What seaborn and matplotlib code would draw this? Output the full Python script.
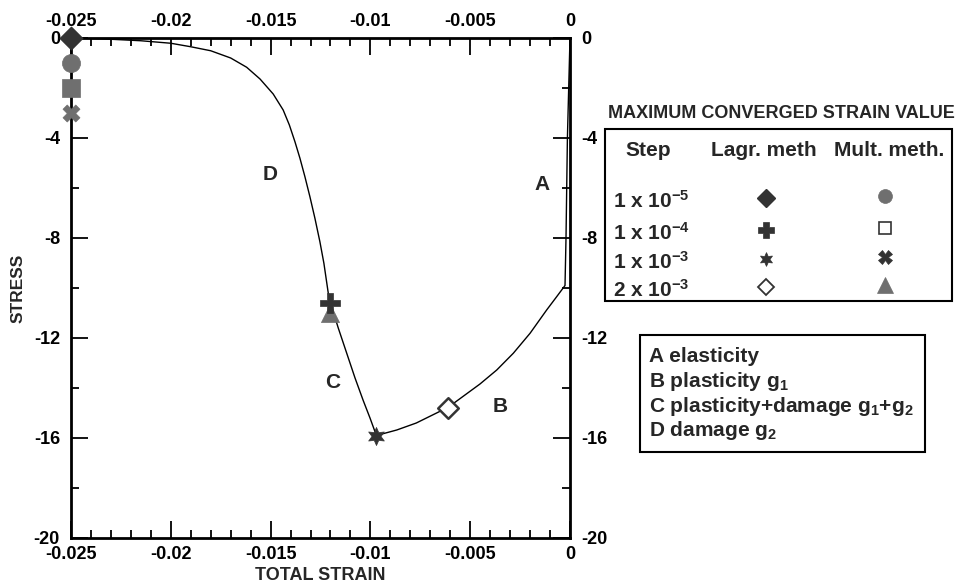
import matplotlib
matplotlib.use("Agg")
import matplotlib.pyplot as plt
import numpy as np
import pandas as pd
import seaborn as sns
from matplotlib.ticker import MultipleLocator, FuncFormatter
from matplotlib.patches import Rectangle

# ---- stress-strain path (A: elastic, B: plastic, C: plastic+damage, D: damage) ----
curve_strain = [0.0, -0.00013, -0.0002, -0.00025, -0.00067, -0.00117, -0.0020,
                -0.00284, -0.00367, -0.00451, -0.0061, -0.0077, -0.00868, -0.0097,
                -0.01002, -0.01036, -0.01077, -0.01119, -0.01161, -0.0120,
                -0.01211, -0.01233, -0.01253, -0.01278, -0.01303, -0.01328,
                -0.01353, -0.01378, -0.01406, -0.01437, -0.01487, -0.01553,
                -0.0162, -0.0170, -0.0180, -0.0190, -0.0200, -0.0215,
                -0.0230, -0.0245, -0.0250]
curve_stress = [0.0, -4.0, -8.0, -9.9, -10.35, -10.88, -11.81,
                -12.61, -13.28, -13.84, -14.77, -15.4, -15.68, -15.9,
                -15.2, -14.5, -13.6, -12.6, -11.6, -10.6,
                -10.21, -9.01, -8.15, -7.21, -6.35, -5.55,
                -4.81, -4.15, -3.48, -2.88, -2.24, -1.64,
                -1.17, -0.8, -0.51, -0.35, -0.21, -0.11,
                -0.05, -0.01, 0.0]

# ---- maximum converged strain for each step size ----
steps = ["1 x 10$^{-5}$", "1 x 10$^{-4}$", "1 x 10$^{-3}$", "2 x 10$^{-3}$"]
lagr_strain = [-0.025, -0.0120, -0.0097, -0.0061]
lagr_stress = [0.0, -10.6, -15.9, -14.8]
mult_strain = [-0.025, -0.025, -0.025, -0.0120]
mult_stress = [-1.0, -2.0, -3.0, -11.0]

region_labels = ["A", "B", "C", "D"]
region_strain = [-0.00142, -0.00351, -0.0119, -0.01503]
region_stress = [-5.88, -14.75, -13.76, -5.48]
region_notes = ["A elasticity", "B plasticity g$_1$",
                "C plasticity+damage g$_1$+g$_2$", "D damage g$_2$"]

sns.set_theme(style="white")
plt.rcParams['font.family'] = ['Liberation Sans', 'DejaVu Sans']
plt.rcParams['font.weight'] = 'bold'
plt.rcParams['axes.unicode_minus'] = False
plt.rcParams['mathtext.fontset'] = 'custom'
plt.rcParams['mathtext.rm'] = 'Liberation Sans:bold'
plt.rcParams['mathtext.it'] = 'Liberation Sans:bold'
plt.rcParams['mathtext.bf'] = 'Liberation Sans:bold'
plt.rcParams['mathtext.default'] = 'rm'

DARK = '#333333'
GRAY = '#6f6f6f'

fig = plt.figure(figsize=(9.6, 5.86), dpi=100)
ax = fig.add_axes([71 / 960, 48 / 586, 499 / 960, 500 / 586])

curve = pd.DataFrame({"strain": curve_strain, "stress": curve_stress})
sns.lineplot(data=curve, x="strain", y="stress", sort=False, estimator=None,
             color="black", lw=1.0, ax=ax)

# marker styles: (marker, size, face, edge, edge width)
lagr_styles = [("D", 130, DARK, DARK, 1.0),
               ("P", 190, DARK, DARK, 0.5),
               ((6, 1, 0), 170, DARK, DARK, 0.5),
               ("D", 110, "white", DARK, 1.8)]
mult_styles_plot = [("o", 170, GRAY, GRAY, 0.5),
                    ("s", 160, GRAY, GRAY, 0.5),
                    ("X", 150, GRAY, GRAY, 0.5),
                    ("^", 170, GRAY, GRAY, 0.5)]

for (x, y, st) in zip(mult_strain, mult_stress, mult_styles_plot):
    m, s, fc, ec, lw = st
    sns.scatterplot(x=[x], y=[y], marker=m, s=s, color=fc, edgecolor=ec,
                    linewidth=lw, ax=ax, clip_on=False, zorder=4)
for (x, y, st) in zip(lagr_strain, lagr_stress, lagr_styles):
    m, s, fc, ec, lw = st
    sns.scatterplot(x=[x], y=[y], marker=m, s=s, color=fc, edgecolor=ec,
                    linewidth=lw, ax=ax, clip_on=False, zorder=5)

for lab, x, y in zip(region_labels, region_strain, region_stress):
    ax.text(x, y, lab, fontsize=15, fontweight='bold', ha='center', va='center')

ax.set_xlim(-0.025, 0)
ax.set_ylim(-20, 0)
ax.xaxis.set_major_locator(MultipleLocator(0.005))
ax.xaxis.set_minor_locator(MultipleLocator(0.001))
ax.yaxis.set_major_locator(MultipleLocator(4))
ax.yaxis.set_minor_locator(MultipleLocator(2))


def fmt(v, pos):
    if abs(v) < 1e-12:
        return "0"
    return f"{v:g}"


ax.xaxis.set_major_formatter(FuncFormatter(fmt))
ax.yaxis.set_major_formatter(FuncFormatter(fmt))
ax.tick_params(which='both', direction='in', top=True, right=True,
               bottom=True, left=True, labeltop=True, labelright=True,
               width=1.3, color='black', labelsize=13, labelcolor='black')
ax.tick_params(which='major', length=12)
ax.tick_params(which='minor', length=6)
ax.tick_params(axis='x', which='major', pad=6)
ax.tick_params(axis='y', which='major', pad=8)
for sp in ax.spines.values():
    sp.set_linewidth(2)
    sp.set_color('black')
for t in ax.get_xticklabels() + ax.get_yticklabels():
    t.set_fontweight('bold')

ax.set_xlabel("TOTAL STRAIN", fontsize=13, fontweight='bold', labelpad=3)
ax.set_ylabel("STRESS", fontsize=12.5, fontweight='bold', labelpad=6)

# ---- legend panels drawn in pixel coordinates ----
ov = fig.add_axes([0, 0, 1, 1])
ov.set_xlim(0, 960)
ov.set_ylim(586, 0)
ov.axis('off')

ov.text(781, 113, "MAXIMUM CONVERGED STRAIN VALUE", fontsize=13,
        fontweight='bold', ha='center', va='center')
ov.add_patch(Rectangle((605, 129), 347, 172, fill=False, lw=1.5,
                       edgecolor='black'))
ov.text(648, 151, "Step", fontsize=15, fontweight='bold', ha='center', va='center')
ov.text(764, 151, "Lagr. meth", fontsize=15, fontweight='bold', ha='center', va='center')
ov.text(889, 151, "Mult. meth.", fontsize=15, fontweight='bold', ha='center', va='center')

row_y = [198, 230, 259, 287]
lagr_leg = [("D", 9, DARK, DARK, 1.0),
            ("P", 12, DARK, DARK, 0.5),
            ((6, 1, 0), 10, DARK, DARK, 0.5),
            ("D", 8.5, "white", DARK, 1.3)]
mult_leg = [("o", 10, GRAY, GRAY, 0.5),
            ("s", 8.5, "white", DARK, 1.2),
            ("X", 10, DARK, DARK, 0.5),
            ("^", 12, GRAY, GRAY, 0.5)]
for i, y in enumerate(row_y):
    ov.text(613, y + 3, steps[i], fontsize=15, fontweight='bold',
            ha='left', va='center')
    m, s, fc, ec, lw = lagr_leg[i]
    ov.plot([766], [y], marker=m, ms=s, mfc=fc, mec=ec, mew=lw, ls='none')
    m, s, fc, ec, lw = mult_leg[i]
    ov.plot([885], [y - 2], marker=m, ms=s, mfc=fc, mec=ec, mew=lw, ls='none')

ov.add_patch(Rectangle((640, 335), 285, 117, fill=False, lw=1.5,
                       edgecolor='black'))
for i, note in enumerate(region_notes):
    ov.text(649, 357 + i * 24.5, note, fontsize=15, fontweight='bold',
            ha='left', va='center')

fig.savefig("out.png", dpi=100)
